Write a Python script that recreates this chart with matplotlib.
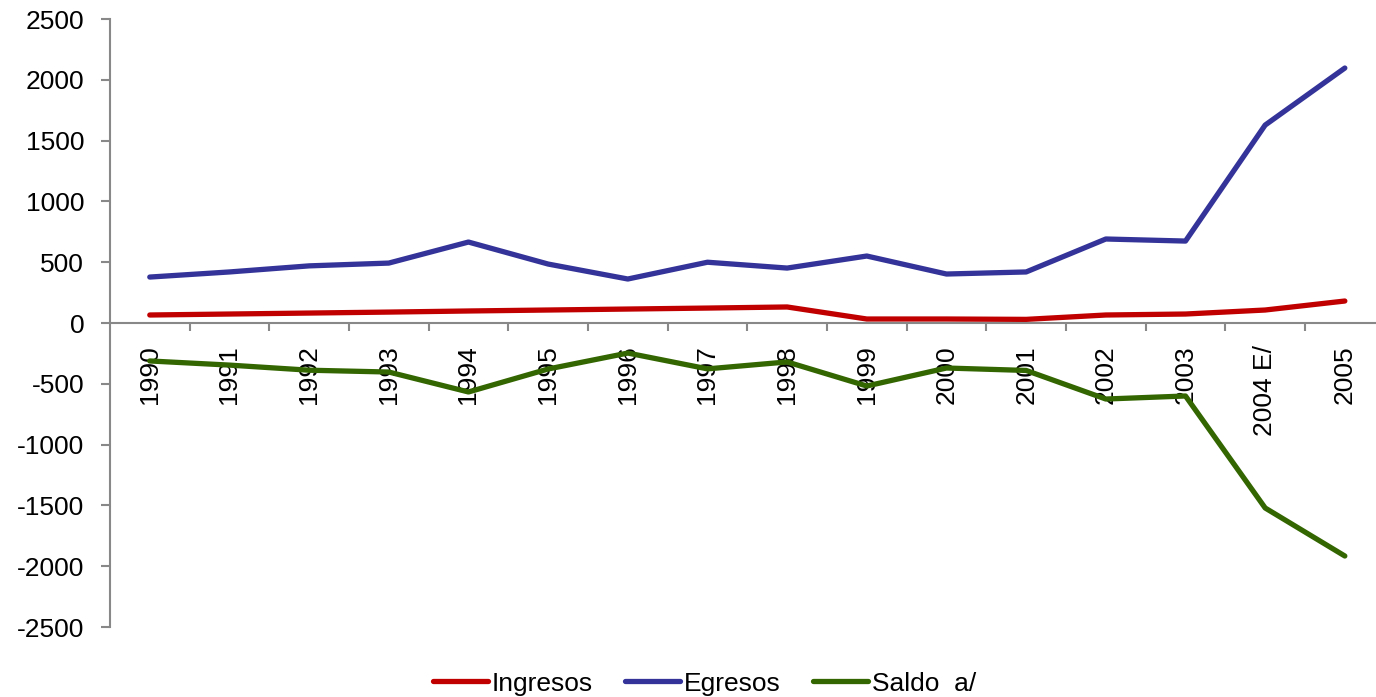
import matplotlib.pyplot as plt
import numpy as np

plt.rcParams['font.family'] = ['Liberation Sans', 'DejaVu Sans']
plt.rcParams['axes.unicode_minus'] = False

years = ['1990', '1991', '1992', '1993', '1994', '1995', '1996', '1997',
         '1998', '1999', '2000', '2001', '2002', '2003', '2004 E/', '2005']
ingresos = [66, 74, 82, 90, 99, 107, 115, 123, 132, 33, 33, 30, 66, 74, 107, 181]
egresos = [378, 420, 470, 493, 666, 485, 362, 500, 452, 551, 403, 420, 691, 674, 1628, 2097]
saldo = [-312, -346, -388, -403, -567, -378, -247, -377, -320, -518, -370, -390, -625, -600, -1521, -1916]

x = np.arange(len(years))

fig = plt.figure(figsize=(13.76, 6.97), dpi=100)
ax = fig.add_axes([0.0799, 0.1004, 0.9264, 0.8723])

ax.plot(x, ingresos, color='#C00000', lw=3.8, label='Ingresos', solid_capstyle='round')
ax.plot(x, egresos, color='#333399', lw=3.8, label='Egresos', solid_capstyle='round')
ax.plot(x, saldo, color='#336600', lw=3.8, label='Saldo  a/', solid_capstyle='round')

ax.set_xlim(-0.5, len(years) - 0.5)
ax.set_ylim(-2500, 2500)
ax.set_yticks(np.arange(-2500, 2501, 500))

for s in ['top', 'right']:
    ax.spines[s].set_visible(False)
ax.spines['bottom'].set_position(('data', 0))
for s in ['left', 'bottom']:
    ax.spines[s].set_color('#888888')
    ax.spines[s].set_linewidth(1.5)

# boundaries get the tick marks, centres get the labels
ax.set_xticks(np.arange(0.5, len(years) - 1, 1.0))
ax.set_xticklabels([])
ax.set_xticks(x, minor=True)
ax.set_xticklabels(years, minor=True, rotation=90, va='top', ha='center')
ax.tick_params(axis='x', which='major', direction='out', length=6, color='#888888', width=1.5)
ax.tick_params(axis='x', which='minor', length=0, pad=16, labelsize=19)
ax.tick_params(axis='y', direction='out', length=6.5, color='#888888', width=1.5,
               pad=12, labelsize=19)

fig.legend(loc='lower center', bbox_to_anchor=(0.512, -0.032), ncol=3, frameon=False,
           fontsize=19, handlelength=2.1, handletextpad=0.15, columnspacing=1.2)

fig.savefig('out.png', dpi=100)
